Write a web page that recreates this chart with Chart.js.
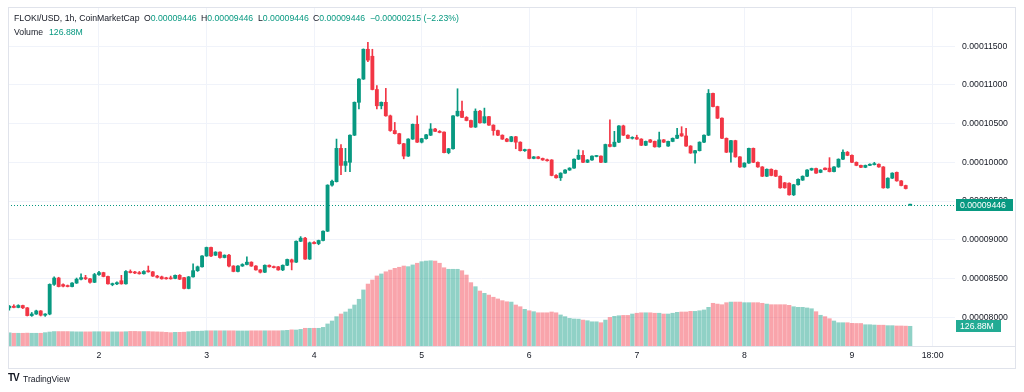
<!DOCTYPE html>
<html><head><meta charset="utf-8">
<script src="https://cdn.jsdelivr.net/npm/chart.js@4/dist/chart.umd.min.js"></script>
<style>
html,body{margin:0;padding:0;background:#fff;}
#wrap{position:relative;width:1024px;height:392px;overflow:hidden;font-family:"Liberation Sans",Arial,sans-serif;}
#c{position:absolute;left:0;top:0;}
.t{position:absolute;font-size:8.7px;color:#131722;white-space:nowrap;line-height:10px;}
.g{color:#089981;}
</style></head><body>
<div id="wrap">
<canvas id="c" width="1024" height="392"></canvas>
<div class="t" style="left:14px;top:13px">FLOKI/USD, 1h, CoinMarketCap</div>
<div class="t" style="left:144px;top:13px">O<span class="g">0.00009446</span></div>
<div class="t" style="left:201px;top:13px">H<span class="g">0.00009446</span></div>
<div class="t" style="left:258px;top:13px">L<span class="g">0.00009446</span></div>
<div class="t" style="left:313px;top:13px">C<span class="g">0.00009446</span></div>
<div class="t g" style="left:370px;top:13px">−0.00000215 (−2.23%)</div>
<div class="t" style="left:14px;top:27px">Volume</div>
<div class="t g" style="left:49px;top:27px">126.88M</div>
<div class="t" style="left:8px;top:373px;font-weight:900;font-size:10px;letter-spacing:-1px;">TV</div>
<div class="t" style="left:23px;top:374px;font-size:8.5px">TradingView</div>
</div>
<script>
// prices in units of 1e-8 USD
const opens = [8120,8141,8125,8150,8120,8020,8040,8080,8025,8040,8423,8505,8420,8405,8395,8440,8490,8510,8495,8450,
8550,8575,8525,8420,8430,8470,8430,8590,8575,8575,8560,8600,8585,8530,8520,8505,8500,8500,8540,8510,
8370,8520,8600,8650,8790,8900,8800,8840,8770,8800,8660,8590,8660,8680,8710,8660,8610,8580,8670,8650,
8650,8610,8670,8740,8710,8980,9020,8750,8965,8950,8990,9110,9705,9750,10180,9960,10000,10350,10775,11075,
11460,11370,10940,10730,10775,10600,10410,10370,10240,10080,10300,10490,10260,10305,10350,10430,10400,10390,10125,10175,
10600,10660,10580,10540,10455,10660,10510,10590,10480,10410,10350,10300,10270,10330,10260,10150,10165,10050,10070,10050,
10030,10030,9830,9800,9860,9900,9925,10040,10090,10000,10030,10075,10080,10000,10230,10205,10260,10470,10350,10310,
10320,10300,10220,10290,10270,10200,10290,10210,10270,10310,10370,10340,10210,10120,10150,10260,10350,10890,10720,10570,
10310,10130,10280,10070,9940,9990,10180,10000,9940,9820,9910,9895,9820,9735,9730,9580,9710,9770,9820,9900,
9920,9870,9925,9925,9880,9940,10040,10130,10090,10000,9960,9935,9960,9970,9975,9940,9670,9795,9870,9760,
9700,9446];
const highs = [8150,8160,8160,8155,8125,8060,8090,8085,8045,8430,8520,8515,8430,8415,8445,8505,8560,8540,8500,8565,
8590,8580,8530,8440,8455,8540,8600,8610,8590,8590,8600,8660,8590,8540,8530,8515,8530,8545,8550,8515,
8525,8690,8660,8795,8905,8905,8845,8845,8805,8810,8665,8665,8690,8780,8715,8665,8615,8675,8675,8660,
8655,8675,8750,8750,8985,9040,9030,8970,8975,8995,9115,9710,9770,10300,10230,10180,10355,10780,11080,11465,
11550,11460,10990,10780,10955,10610,10515,10375,10245,10305,10495,10600,10310,10360,10500,10440,10410,10395,10180,10605,
10950,10790,10590,10545,10690,10670,10700,10595,10485,10415,10355,10310,10335,10335,10265,10170,10170,10075,10075,10055,
10040,10035,9840,9865,9905,9930,10045,10160,10150,10035,10085,10090,10085,10235,10550,10400,10475,10480,10355,10330,
10350,10305,10275,10295,10275,10390,10295,10275,10315,10440,10460,10440,10215,10155,10265,10355,10940,10895,10725,10575,
10315,10285,10285,10075,9995,10185,10185,10005,9945,9915,9915,9900,9825,9740,9735,9715,9785,9825,9905,9925,
9925,9905,9930,10060,9945,10045,10160,10140,10095,10005,9965,9965,9980,10000,9980,9945,9800,9865,9875,9765,
9705,9446];
const lows = [8090,8120,8120,8110,8015,8010,8035,8015,8010,8030,8410,8390,8390,8390,8390,8435,8480,8485,8440,8445,
8540,8520,8425,8405,8420,8425,8425,8570,8560,8555,8555,8580,8525,8505,8490,8490,8490,8495,8485,8365,
8365,8515,8590,8645,8785,8780,8795,8760,8765,8650,8585,8585,8655,8675,8655,8605,8570,8575,8645,8635,
8605,8600,8665,8610,8705,8975,8745,8745,8945,8935,8985,9105,9690,9745,9840,9880,9880,10345,10690,11070,
11300,10935,10690,10690,10595,10400,10365,10235,10045,10075,10295,10255,10250,10300,10345,10395,10380,10120,10110,10170,
10595,10575,10535,10450,10450,10505,10505,10475,10350,10345,10295,10265,10265,10175,10145,10140,10045,10045,10045,10025,
10015,9825,9795,9765,9855,9895,9920,10035,9995,9995,10025,10070,9995,9995,10200,10200,10255,10345,10305,10300,
10295,10215,10215,10255,10195,10195,10255,10205,10265,10305,10335,10205,10115,9990,10145,10255,10345,10715,10565,10305,
10125,10000,10065,9935,9935,9985,9995,9935,9815,9815,9825,9815,9665,9665,9575,9570,9705,9765,9815,9895,
9855,9865,9900,9875,9875,9935,10035,10085,9995,9955,9930,9930,9955,9965,9935,9665,9665,9790,9755,9695,
9655,9446];
const closes = [8141,8125,8150,8120,8020,8040,8080,8025,8040,8423,8505,8395,8400,8395,8440,8490,8510,8495,8450,8550,
8575,8525,8430,8430,8445,8430,8590,8575,8570,8560,8590,8585,8530,8515,8495,8495,8495,8540,8490,8370,
8520,8600,8650,8790,8900,8790,8840,8770,8800,8660,8590,8660,8680,8710,8660,8610,8580,8670,8650,8640,
8610,8670,8745,8710,8980,9020,8750,8960,8950,8990,9110,9705,9755,10180,9960,10010,10350,10775,11075,11460,
11320,10940,10730,10775,10600,10410,10370,10240,10080,10300,10490,10260,10305,10355,10430,10400,10385,10125,10175,10600,
10660,10580,10540,10455,10660,10510,10590,10480,10410,10350,10300,10270,10330,10260,10150,10165,10050,10070,10050,10030,
10020,9830,9800,9860,9900,9925,10040,10090,10000,10030,10080,10080,10000,10230,10205,10260,10470,10350,10310,10320,
10300,10220,10270,10260,10200,10290,10260,10270,10310,10350,10340,10210,10120,10150,10260,10350,10890,10720,10570,10310,
10130,10280,10070,9940,9990,10180,10000,9940,9820,9910,9830,9820,9670,9670,9580,9710,9780,9820,9900,9920,
9860,9900,9905,9880,9940,10040,10130,10090,10000,9960,9935,9960,9975,9980,9940,9670,9795,9860,9760,9700,
9661,9446];
// volume in millions
const volumesM = [85,82,82,82,83,82,82,82,86,
90,93,93,93,93,92,91,91,91,91,92,
92,92,91,91,91,91,92,94,94,93,93,93,92,91,90,88,86,88,
88,89,92,
95,95,96,98,98,98,98,98,98,98,97,97,97,98,98,98,98,98,98,98,99,101,104,103,
107,114,114,114,114,120,142,161,189,206,
219,238,264,301,361,399,425,451,464,478,
489,500,507,515,511,522,533,543,547,549,
547,533,504,494,494,494,485,457,408,382,
354,339,328,314,303,292,285,283,264,253,
236,227,221,214,214,214,219,214,200,189,
178,174,173,167,163,156,156,150,167,184,
191,195,197,197,206,211,214,214,214,211,
211,206,206,211,217,219,219,223,223,227,
232,249,275,270,266,279,283,283,283,279,
279,279,279,275,270,266,266,266,266,262,
253,249,249,245,240,221,198,189,176,161,
150,150,150,146,145,145,137,137,135,134,
134,131,131,129,129,128,126.88];
const xTickIdx = [20,44,68,92,116,140,164,188,206];
const xTickLabels = ['2','3','4','5','6','7','8','9','18:00'];
const priceTicksE8 = [8000,8500,9000,9500,10000,10500,11000,11500];
const lastPriceLabel = '0.00009446';
const lastVolumeLabel = '126.88M';

const UP = '#089981', DOWN = '#F23645';
const UPV = 'rgba(8,153,129,0.45)', DOWNV = 'rgba(242,54,69,0.45)';
const isUp = i => closes[i] >= opens[i];

Chart.defaults.font.family = '"Liberation Sans", Arial, sans-serif';
Chart.defaults.font.size = 8.7;
Chart.defaults.color = '#131722';

const overlay = {
  id: 'overlay',
  beforeDatasetsDraw(chart) {
    const {ctx, chartArea: a, scales: {y}} = chart;
    const py = Math.round(y.getPixelForValue(closes[closes.length - 1])) + 0.5;
    ctx.save();
    ctx.strokeStyle = UP; ctx.lineWidth = 1; ctx.setLineDash([1, 2]);
    ctx.beginPath(); ctx.moveTo(a.left, py); ctx.lineTo(a.right, py); ctx.stroke();
    ctx.restore();
  },
  afterDraw(chart) {
    const {ctx, chartArea: a, scales: {y, yv}} = chart;
    ctx.save();
    ctx.strokeStyle = '#e0e3eb'; ctx.lineWidth = 1;
    ctx.strokeRect(8.5, 7.5, 1007, 361);
    ctx.beginPath(); ctx.moveTo(8, a.bottom + 0.5); ctx.lineTo(1016, a.bottom + 0.5); ctx.stroke();
    const py = y.getPixelForValue(closes[closes.length - 1]);
    const vy = yv.getPixelForValue(volumesM[volumesM.length - 1]);
    ctx.font = '8.7px "Liberation Sans", Arial, sans-serif';
    ctx.textBaseline = 'middle';
    ctx.fillStyle = UP;
    ctx.fillRect(956, Math.round(py) - 6, 57, 12);
    ctx.fillStyle = '#22ab94';
    ctx.fillRect(956, Math.round(vy) - 6, 45, 12);
    ctx.fillStyle = '#ffffff';
    ctx.fillText(lastPriceLabel, 960, Math.round(py) + 0.5);
    ctx.fillText(lastVolumeLabel, 960, Math.round(vy) + 0.5);
    ctx.restore();
  }
};

new Chart(document.getElementById('c'), {
  type: 'bar',
  data: {
    datasets: [
      {
        label: 'Volume', yAxisID: 'yv', order: 3, grouped: false,
        data: volumesM.map((v, i) => ({x: i, y: v})),
        backgroundColor: c => isUp(c.dataIndex) ? UPV : DOWNV,
        barThickness: 3.6, borderWidth: 0
      },
      {
        label: 'Wick', yAxisID: 'y', order: 2, grouped: false,
        data: opens.map((o, i) => ({x: i, y: [lows[i], highs[i]]})),
        backgroundColor: c => isUp(c.dataIndex) ? UP : DOWN,
        barThickness: 1, borderWidth: 0, minBarLength: 1
      },
      {
        label: 'Body', yAxisID: 'y', order: 1, grouped: false,
        data: opens.map((o, i) => ({x: i, y: [o, closes[i]]})),
        backgroundColor: c => isUp(c.dataIndex) ? UP : DOWN,
        barThickness: 3.2, borderWidth: 0, minBarLength: 1
      }
    ]
  },
  options: {
    responsive: false, animation: false, devicePixelRatio: 1, events: [],
    layout: {padding: {left: 8, top: 7, right: 0, bottom: 24}},
    plugins: {legend: {display: false}, tooltip: {enabled: false}},
    scales: {
      x: {
        type: 'linear', offset: false, min: -0.3, max: 211,
        grid: {color: '#f0f3fa', offset: false, drawTicks: false},
        border: {display: false},
        afterBuildTicks: s => { s.ticks = xTickIdx.map(v => ({value: v})); },
        afterFit: s => { s.height = 22; s.paddingLeft = 0; s.paddingRight = 0; },
        ticks: {
          autoSkip: false, maxRotation: 0, padding: 4,
          callback: v => { const k = xTickIdx.indexOf(v); return k >= 0 ? xTickLabels[k] : ''; }
        }
      },
      y: {
        type: 'linear', position: 'right', min: 7627, max: 12006,
        grid: {color: '#f0f3fa', drawTicks: false},
        border: {display: false},
        afterBuildTicks: s => { s.ticks = priceTicksE8.map(v => ({value: v})); },
        afterFit: s => { s.width = 69; s.paddingTop = 0; s.paddingBottom = 0; },
        ticks: {padding: 7, callback: v => (v / 1e8).toFixed(8)}
      },
      yv: {
        type: 'linear', position: 'right', display: false, min: 0, max: 2183,
        grid: {display: false}
      }
    }
  },
  plugins: [overlay]
});
</script>
</body></html>
